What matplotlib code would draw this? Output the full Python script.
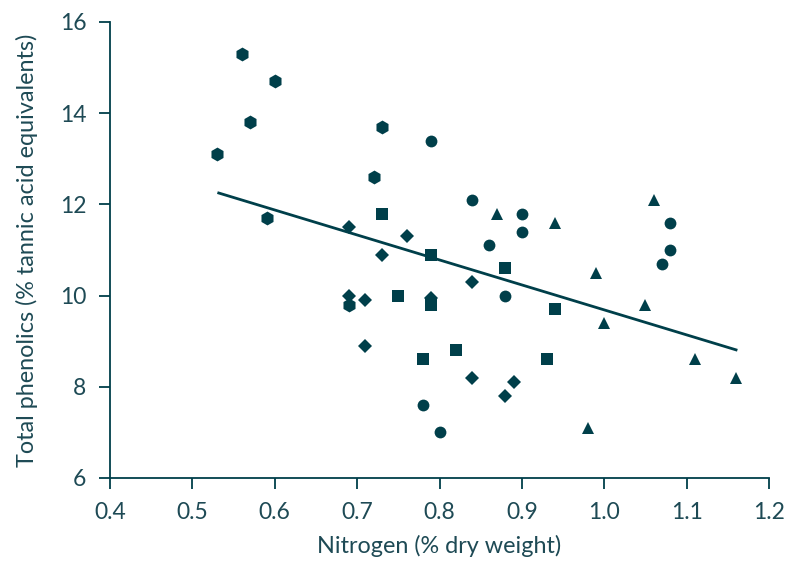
import matplotlib
matplotlib.use('Agg')
import matplotlib.pyplot as plt

plt.rcParams['font.family'] = ['Lato', 'DejaVu Sans']

# Data, one group per marker shape
hex_x = [0.56, 0.60, 0.57, 0.53, 0.73, 0.72, 0.59, 0.69]
hex_y = [15.3, 14.7, 13.8, 13.1, 13.7, 12.6, 11.7, 9.8]

diamond_x = [0.69, 0.76, 0.73, 0.84, 0.69, 0.71, 0.79, 0.71, 0.84, 0.89, 0.88]
diamond_y = [11.5, 11.3, 10.9, 10.3, 10.0, 9.9, 9.95, 8.9, 8.2, 8.1, 7.8]

square_x = [0.73, 0.79, 0.88, 0.75, 0.79, 0.94, 0.82, 0.78, 0.93]
square_y = [11.8, 10.9, 10.6, 10.0, 9.8, 9.7, 8.8, 8.6, 8.6]

circle_x = [0.79, 0.84, 0.90, 0.90, 0.86, 0.88, 0.78, 0.80, 1.08, 1.08, 1.07]
circle_y = [13.4, 12.1, 11.8, 11.4, 11.1, 10.0, 7.6, 7.0, 11.6, 11.0, 10.7]

tri_x = [0.87, 0.94, 1.06, 0.99, 1.05, 1.00, 1.11, 1.16, 0.98]
tri_y = [11.8, 11.6, 12.1, 10.5, 9.8, 9.4, 8.6, 8.2, 7.1]

# regression line end points
fit_x = [0.532, 1.16]
fit_y = [12.25, 8.81]

COL = '#003f4a'
TXT = '#1e4a55'

fig = plt.figure(figsize=(7.86, 5.63), dpi=100)
ax = fig.add_axes([110 / 786, 85 / 563, 659 / 786, 456 / 563])

ax.plot(fit_x, fit_y, color=COL, lw=2, zorder=2)
ax.plot(hex_x, hex_y, 'h', color=COL, ms=10, mew=0, zorder=3)
ax.plot(circle_x, circle_y, 'o', color=COL, ms=8.5, mew=0, zorder=3)
ax.plot(square_x, square_y, 's', color=COL, ms=8, mew=0, zorder=3)
ax.plot(diamond_x, diamond_y, 'D', color=COL, ms=7.5, mew=0, zorder=3)
ax.plot(tri_x, tri_y, '^', color=COL, ms=9, mew=0, zorder=3)

ax.set_xlim(0.4, 1.2)
ax.set_ylim(6, 16)
ax.set_xticks([0.4, 0.5, 0.6, 0.7, 0.8, 0.9, 1.0, 1.1, 1.2])
ax.set_yticks([6, 8, 10, 12, 14, 16])

for s in ['top', 'right']:
    ax.spines[s].set_visible(False)
for s in ['left', 'bottom']:
    ax.spines[s].set_color(COL)
    ax.spines[s].set_linewidth(1.3)
ax.tick_params(colors=COL, labelcolor=TXT, labelsize=16.5, length=8, width=1.3, pad=9)

ax.set_xlabel('Nitrogen (% dry weight)', fontsize=16.8, color=TXT, labelpad=9)
ax.set_ylabel('Total phenolics (% tannic acid equivalents)', fontsize=16.8, color=TXT, labelpad=16)

fig.savefig('out.png', dpi=100)
